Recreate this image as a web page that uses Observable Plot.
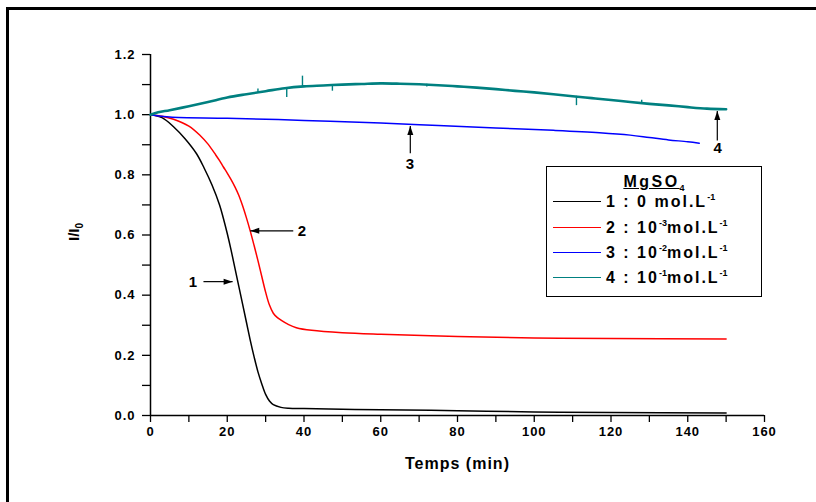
<!DOCTYPE html>
<html>
<head>
<meta charset="utf-8">
<script src="https://cdn.jsdelivr.net/npm/d3@7"></script>
<script src="https://cdn.jsdelivr.net/npm/@observablehq/plot@0.6"></script>
<style>
  html, body { margin: 0; padding: 0; background: #fff; overflow: hidden; width: 816px; height: 502px; }
  #wrap { position: relative; width: 816px; height: 502px; font-family: 'Liberation Sans', Arial, sans-serif; }
  #frame { position: absolute; left: 6px; top: 7px; width: 900px; height: 600px; border-top: 3px solid #000; border-left: 3px solid #000; }
  #chart { position: absolute; left: 0; top: 0; }
  #legend { position: absolute; left: 546px; top: 166px; width: 214px; height: 129px; border: 1px solid #000; background: #fff;
            font: bold 16px 'Liberation Sans', Arial, sans-serif; letter-spacing: 2px; color: #000; }
  #legend .title { position: absolute; left: 0; width: 100%; top: 6px; text-align: center; text-decoration: underline; letter-spacing: 2.5px; }
  #legend .row { position: absolute; left: 6px; height: 18px; line-height: 18px; white-space: nowrap; }
  #legend .swatch { display: inline-block; width: 48px; height: 0; vertical-align: middle; margin-right: 5px; position: relative; top: -1px; }
  #legend sup, #legend sub { font-size: 9px; line-height: 0; letter-spacing: 0; }
  #legend sup { vertical-align: 7px; }
  #legend sub { vertical-align: -4px; }
</style>
</head>
<body>
<div id="wrap">
  <div id="frame"></div>
  <div id="chart"></div>
  <div id="legend"></div>
</div>
<script>
// ---------- data ----------
const xTicks = [0, 10, 20, 30, 40, 50, 60, 70, 80, 90, 100, 110, 120, 130, 140, 150, 160];
const yTicks = [0, 0.1, 0.2, 0.3, 0.4, 0.5, 0.6, 0.7, 0.8, 0.9, 1.0, 1.1, 1.2];

// Series 1 : 0 mol/L (black)
const t1 = [0, 3, 6, 9, 12, 14, 16, 18, 19, 20, 21, 22, 23, 24, 25, 26, 27, 28, 29, 30, 31, 32, 34, 36, 40, 50, 60, 80, 100, 120, 150];
const i1 = [1.0, 0.99, 0.96, 0.92, 0.87, 0.822, 0.767, 0.70, 0.655, 0.605, 0.55, 0.49, 0.43, 0.37, 0.31, 0.25, 0.195, 0.145, 0.105, 0.07, 0.048, 0.036, 0.027, 0.024, 0.023, 0.021, 0.019, 0.016, 0.012, 0.01, 0.008];

// Series 2 : 1e-3 mol/L (red)
const t2 = [0, 3, 6, 10, 13, 15, 17, 18, 19, 20, 21, 22, 23, 24, 25, 26, 27, 28, 29, 30, 31, 32, 33, 34, 36, 38, 42, 50, 60, 80, 100, 120, 150];
const i2 = [1.0, 0.995, 0.985, 0.962, 0.93, 0.902, 0.866, 0.847, 0.826, 0.806, 0.784, 0.76, 0.732, 0.697, 0.657, 0.613, 0.565, 0.515, 0.462, 0.41, 0.367, 0.34, 0.326, 0.317, 0.302, 0.292, 0.283, 0.275, 0.27, 0.263, 0.258, 0.256, 0.254];

// Series 3 : 1e-2 mol/L (blue)
const t3 = [0, 5, 20, 40, 60, 75, 90, 105, 117, 125, 130, 135, 140, 143];
const i3 = [1.0, 0.992, 0.988, 0.981, 0.972, 0.964, 0.956, 0.948, 0.94, 0.932, 0.924, 0.916, 0.91, 0.905];

// Series 4 : 1e-1 mol/L (teal)
const t4 = [0, 2, 5, 10, 15, 20, 25, 30, 35, 40, 45, 50, 55, 60, 65, 70, 75, 80, 85, 90, 95, 100, 105, 110, 115, 120, 125, 130, 135, 140, 145, 150];
const i4 = [1.0, 1.008, 1.015, 1.028, 1.042, 1.057, 1.068, 1.078, 1.088, 1.094, 1.097, 1.1, 1.102, 1.104, 1.103, 1.101, 1.098, 1.094, 1.09, 1.085, 1.079, 1.074, 1.068, 1.061, 1.055, 1.049, 1.042, 1.036, 1.031, 1.025, 1.02, 1.018];
// noise spikes on series 4
const spikeT    = [28, 35.5, 39.6, 47.4, 72, 111, 128];
const spikeBase = [1.074, 1.09, 1.093, 1.097, 1.101, 1.061, 1.039];
const spikeTip  = [1.085, 1.057, 1.128, 1.078, 1.092, 1.03, 1.048];

const seriesNum   = ["1", "2", "3", "4"];
const seriesConc  = ["0", "10", "10", "10"];
const seriesExp   = [null, "-3", "-2", "-1"];
const seriesColor = ["#000000", "#ff0000", "#0000ff", "#008080"];

// annotation arrows: label, label position, arrow tail -> tip
const annLabel = ["1", "2", "3", "4"];
const annLx = [11.2, 39.6, 67.7, 147.9];
const annLy = [0.443, 0.614, 0.835, 0.888];
const annX1 = [13.8, 37.2, 67.7, 147.7];
const annY1 = [0.445, 0.614, 0.872, 0.914];
const annX2 = [21.4, 26.0, 67.7, 147.7];
const annY2 = [0.445, 0.614, 0.962, 1.012];
const annDir = ["right", "left", "up", "up"];

// ---------- build ----------
const toRows = (t, v, k) => t.map((x, j) => ({t: x, v: v[j], k}));
const lines = [toRows(t1, i1, 0), toRows(t2, i2, 1), toRows(t3, i3, 2), toRows(t4, i4, 3)];
const spikes = spikeT.map((t, j) => ({t, y1: spikeBase[j], y2: spikeTip[j]}));
const anns = annLabel.map((s, j) => ({s, lx: annLx[j], ly: annLy[j], x1: annX1[j], y1: annY1[j], x2: annX2[j], y2: annY2[j], dir: annDir[j]}));

function headSymbol(dir) {
  const L = 9, W = 3;
  return {
    draw(ctx) {
      if (dir === "right") { ctx.moveTo(0, 0); ctx.lineTo(-L, -W); ctx.lineTo(-L, W); }
      else if (dir === "left") { ctx.moveTo(0, 0); ctx.lineTo(L, -W); ctx.lineTo(L, W); }
      else { ctx.moveTo(0, 0); ctx.lineTo(-W, L); ctx.lineTo(W, L); }
      ctx.closePath();
    }
  };
}

const fontFam = "'Liberation Sans', Arial, sans-serif";
const lineWidths = [1.5, 1.5, 1.5, 2.6];

const plot = Plot.plot({
  width: 816,
  height: 502,
  marginLeft: 150,
  marginRight: 52,
  marginTop: 54,
  marginBottom: 87,
  x: {domain: [0, 160]},
  y: {domain: [0, 1.2]},
  style: {fontFamily: fontFam, fontWeight: "bold", fontSize: "13px", background: "transparent", color: "#000", overflow: "visible"},
  marks: [
    Plot.axisX({ticks: xTicks, tickFormat: d => d % 20 === 0 ? String(d) : "", tickSize: 7, tickPadding: 4, label: null, strokeWidth: 1.3}),
    Plot.axisY({ticks: yTicks, tickFormat: d => (Math.round(d * 10) % 2 === 0) ? d.toFixed(1) : "", tickSize: 8, tickPadding: 7, label: null, strokeWidth: 1.3}),
    Plot.ruleY([0], {stroke: "#000", strokeWidth: 1.5}),
    Plot.ruleX([0], {stroke: "#000", strokeWidth: 1.5}),
    ...lines.map((rows, k) => Plot.line(rows, {x: "t", y: "v", stroke: seriesColor[k], strokeWidth: lineWidths[k], curve: "catmull-rom"})),
    Plot.ruleX(spikes, {x: "t", y1: "y1", y2: "y2", stroke: seriesColor[3], strokeWidth: 1.4}),
    Plot.link(anns, {x1: "x1", y1: "y1", x2: "x2", y2: "y2", stroke: "#000", strokeWidth: 1.2}),
    ...["right", "left", "up"].map(dir => Plot.dot(anns.filter(a => a.dir === dir), {x: "x2", y: "y2", symbol: headSymbol(dir), r: 5, fill: "#000", stroke: "none"})),
    Plot.text(anns, {x: "lx", y: "ly", text: "s", fontSize: 15, fontWeight: "bold", fill: "#000"}),
    Plot.text(["Temps (min)"], {frameAnchor: "bottom", dy: 53, fontSize: 16, fontWeight: "bold", fill: "#000"})
  ]
});
d3.select(plot).selectAll("text").style("letter-spacing", "1px");
document.getElementById("chart").appendChild(plot);

// y axis title with subscript
const ylab = d3.select(plot).append("text")
  .attr("transform", "translate(79,232) rotate(-90)")
  .attr("text-anchor", "middle")
  .attr("font-size", 15)
  .attr("font-weight", "bold")
  .attr("fill", "#000");
ylab.append("tspan").text("I/I");
ylab.append("tspan").attr("font-size", 10).attr("dy", 4).text("0");

// legend
const legend = d3.select("#legend");
legend.append("div").attr("class", "title").html("MgSO<sub>4</sub>");
const rowTops = [35, 61, 86, 111];
seriesNum.forEach((n, k) => {
  const row = legend.append("div").attr("class", "row").style("top", (rowTops[k] - 9) + "px");
  row.append("span").attr("class", "swatch").style("border-top", `1.5px solid ${seriesColor[k]}`);
  const txt = row.append("span");
  txt.append("span").text(`${n} : ${seriesConc[k]}`);
  if (seriesExp[k]) txt.append("sup").text(seriesExp[k]);
  else txt.append("span").text(" ");
  txt.append("span").text("mol.L");
  txt.append("sup").text("-1");
});
</script>
</body>
</html>
